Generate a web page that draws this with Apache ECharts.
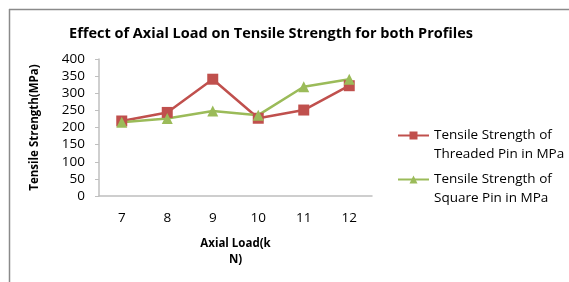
<!DOCTYPE html>
<html><head><meta charset="utf-8">
<script src="https://cdn.jsdelivr.net/npm/echarts@6/dist/echarts.min.js"></script>
<style>html,body{margin:0;padding:0;background:#fff}#c{width:569px;height:282px}</style>
</head><body><div id="c"></div>
<script>
var categories = ['7','8','9','10','11','12'];
var threaded = [219, 244, 341, 227, 251, 322];
var square = [215, 226, 248, 236, 319, 341];
var yTicks = [0, 400, 50];
var seriesNames = ['Tensile Strength of\nThreaded Pin in MPa', 'Tensile Strength of\nSquare Pin in MPa'];
var font = 'Open Sans';
var chart = echarts.init(document.getElementById('c'));
chart.setOption({
  animation: false,
  backgroundColor: '#fff',
  graphic: [
    {type: 'line', shape: {x1: 9, y1: 9.5, x2: 569, y2: 9.5}, style: {stroke: '#8a8a8a', lineWidth: 1.5}},
    {type: 'line', shape: {x1: 9.5, y1: 9, x2: 9.5, y2: 282}, style: {stroke: '#8a8a8a', lineWidth: 1.5}}
  ],
  title: {
    text: 'Effect of Axial Load on Tensile Strength for both Profiles',
    left: 266, top: 21, textAlign: 'center',
    textStyle: {fontFamily: font, fontWeight: 'bold', fontSize: 14.5, color: '#000'}
  },
  legend: {
    orient: 'vertical', left: 397, top: 107, itemGap: -13, padding: 0,
    itemWidth: 31, itemHeight: 10,
    formatter: function (name) { return ' \n' + name; },
    textStyle: {fontFamily: font, fontSize: 13.5, color: '#000', lineHeight: 19},
    data: [seriesNames[0], seriesNames[1]]
  },
  grid: {left: 99, top: 59, width: 273, height: 137, containLabel: false},
  xAxis: {
    type: 'category', data: categories, boundaryGap: true,
    name: 'Axial Load(k\nN)', nameLocation: 'middle', nameGap: 40,
    nameTextStyle: {fontFamily: font, fontWeight: 'bold', fontSize: 11.5, color: '#000', lineHeight: 16},
    axisLine: {lineStyle: {color: '#bfbfbf', width: 1.5}},
    axisTick: {show: false},
    axisLabel: {fontFamily: font, fontSize: 13.5, color: '#000', margin: 15}
  },
  yAxis: {
    type: 'value', min: yTicks[0], max: yTicks[1], interval: yTicks[2],
    name: 'Tensile Strength(MPa)', nameLocation: 'middle', nameGap: 58, nameRotate: 90,
    nameTextStyle: {fontFamily: font, fontWeight: 'bold', fontSize: 11.5, color: '#000'},
    axisLine: {show: true, lineStyle: {color: '#bfbfbf', width: 1.5}},
    axisTick: {show: true, length: 4, lineStyle: {color: '#bfbfbf'}},
    splitLine: {show: false},
    axisLabel: {fontFamily: font, fontSize: 13.5, color: '#000', margin: 14}
  },
  series: [
    {name: seriesNames[0], type: 'line', data: threaded, symbol: 'rect', symbolSize: 11,
     itemStyle: {color: '#C0504D'}, lineStyle: {color: '#C0504D', width: 2.5}},
    {name: seriesNames[1], type: 'line', data: square, symbol: 'triangle', symbolSize: 11,
     itemStyle: {color: '#9BBB59'}, lineStyle: {color: '#9BBB59', width: 2.5}}
  ]
});
</script></body></html>
